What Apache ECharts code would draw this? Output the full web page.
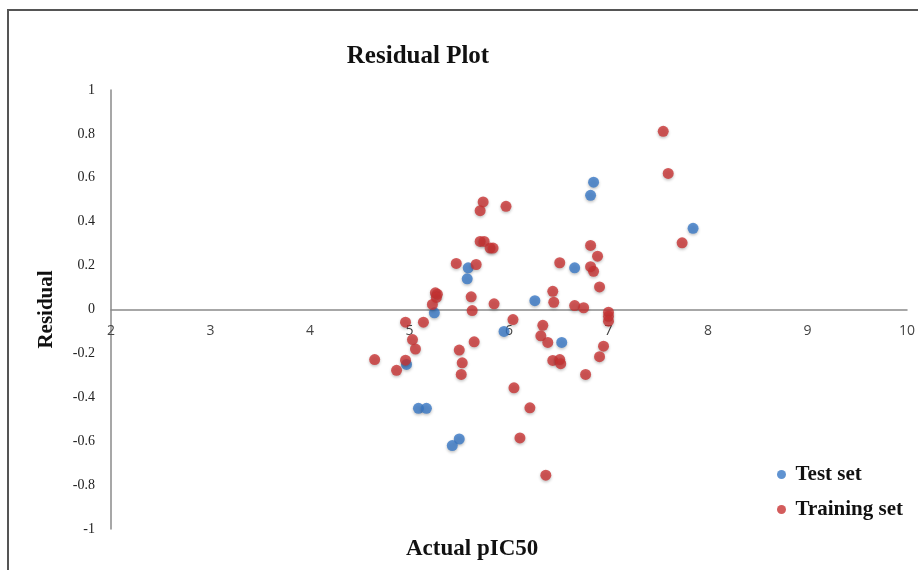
<!DOCTYPE html>
<html>
<head>
<meta charset="utf-8">
<script src="https://cdn.jsdelivr.net/npm/echarts@6/dist/echarts.min.js"></script>
<style>
    html, body { margin: 0; padding: 0; background: #fff; }
    #main { width: 918px; height: 570px; }
</style>
</head>
<body>
<div id="main"></div>
<script>
// [actual pIC50, residual]
let testSet = [
    [5.59, 0.19], [5.58, 0.14], [5.25, -0.015], [6.26, 0.04], [5.95, -0.10],
    [4.97, -0.25], [5.09, -0.45], [5.17, -0.45], [5.50, -0.59], [5.43, -0.62],
    [6.53, -0.15], [6.66, 0.19], [6.82, 0.52], [6.85, 0.58], [7.85, 0.37]
];
let trainingSet = [
    [5.74, 0.49], [5.71, 0.45], [5.97, 0.47], [5.71, 0.31], [5.75, 0.31],
    [5.81, 0.28], [5.84, 0.28], [5.47, 0.21], [5.67, 0.205], [5.26, 0.076],
    [5.28, 0.07], [5.27, 0.055], [5.23, 0.023], [5.62, 0.058], [5.63, -0.005],
    [5.85, 0.026], [4.96, -0.058], [5.14, -0.058], [6.04, -0.046], [6.34, -0.072],
    [6.32, -0.12], [6.39, -0.15], [5.03, -0.137], [5.06, -0.18], [5.65, -0.147],
    [5.50, -0.185], [4.65, -0.228], [4.96, -0.231], [4.87, -0.277], [5.53, -0.243],
    [5.52, -0.296], [6.05, -0.357], [6.21, -0.448], [6.11, -0.585], [6.37, -0.755],
    [6.44, 0.083], [6.45, 0.033], [6.51, 0.213], [6.66, 0.018], [6.75, 0.008],
    [6.82, 0.292], [6.89, 0.243], [6.82, 0.195], [6.85, 0.174], [6.91, 0.103],
    [7.00, -0.012], [7.00, -0.031], [7.00, -0.053], [6.95, -0.167], [6.91, -0.215],
    [6.44, -0.232], [6.51, -0.228], [6.52, -0.247], [6.77, -0.296], [7.55, 0.812],
    [7.60, 0.62], [7.74, 0.304]
];

let serif = '"Liberation Serif", "Times New Roman", serif';
let chart = echarts.init(document.getElementById('main'));
let option = {
    animation: false,
    title: {
        text: 'Residual Plot',
        left: 413,
        top: 39,
        textAlign: 'center',
        textStyle: {
            fontFamily: serif,
            fontWeight: 'bold',
            fontSize: 25,
            color: '#111'
        }
    },
    legend: {
        orient: 'vertical',
        left: 772,
        top: 459,
        itemGap: 14,
        itemWidth: 18,
        itemHeight: 9,
        icon: 'circle',
        textStyle: {
            fontFamily: serif,
            fontWeight: 'bold',
            fontSize: 21,
            color: '#111'
        },
        data: ['Test set', 'Training set']
    },
    grid: {
        left: 111,
        right: 11,
        top: 90,
        bottom: 41
    },
    xAxis: {
        type: 'value',
        min: 2,
        max: 10,
        interval: 1,
        offset: -219.5, // axis sits on residual = 0
        axisLine: { onZero: false, lineStyle: { color: '#8a8a8a', width: 1.5 } },
        axisTick: { show: false },
        splitLine: { show: false },
        axisLabel: {
            margin: 15,
            fontFamily: '"Open Sans", sans-serif',
            fontSize: 14,
            color: '#444'
        }
    },
    yAxis: {
        type: 'value',
        min: -1,
        max: 1,
        interval: 0.2,
        name: 'Residual',
        nameLocation: 'middle',
        nameGap: 54,
        nameTextStyle: {
            fontFamily: serif,
            fontWeight: 'bold',
            fontSize: 21,
            color: '#111'
        },
        axisLine: { show: true, onZero: false, lineStyle: { color: '#8a8a8a', width: 1.5 } },
        axisTick: { show: false },
        splitLine: { show: false },
        axisLabel: {
            margin: 16,
            fontFamily: serif,
            fontSize: 14,
            color: '#222',
            formatter: v => Math.round(v * 10) / 10 + ''
        }
    },
    graphic: [
        {
            type: 'rect',
            shape: { x: 8, y: 10, width: 920, height: 580 },
            style: { fill: 'none', stroke: '#555', lineWidth: 2 },
            silent: true
        },
        {
            type: 'text',
            left: 406,
            top: 538,
            style: {
                text: 'Actual pIC50',
                font: 'bold 23px ' + serif,
                fill: '#111'
            }
        }
    ],
    series: [
        {
            name: 'Test set',
            type: 'scatter',
            symbolSize: 11,
            itemStyle: {
                color: '#3878c6',
                shadowBlur: 3,
                shadowOffsetY: 1.5,
                shadowColor: 'rgba(0,0,0,0.3)'
            },
            data: testSet
        },
        {
            name: 'Training set',
            type: 'scatter',
            symbolSize: 11,
            itemStyle: {
                color: '#c83333',
                shadowBlur: 3,
                shadowOffsetY: 1.5,
                shadowColor: 'rgba(0,0,0,0.3)'
            },
            data: trainingSet
        }
    ]
};
chart.setOption(option);
</script>
</body>
</html>
